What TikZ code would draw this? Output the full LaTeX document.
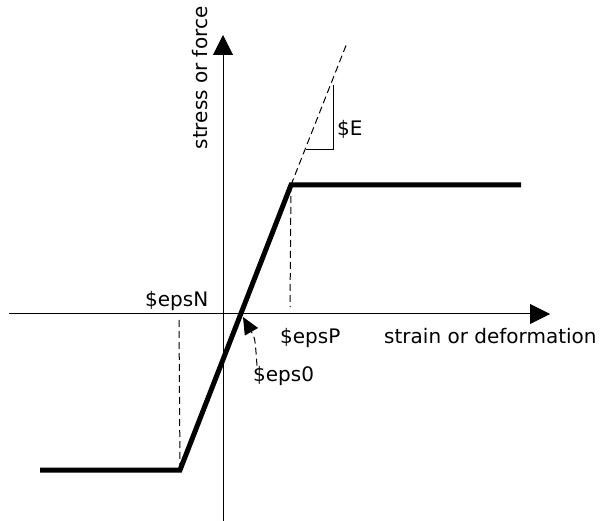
\documentclass[tikz,border=0pt]{standalone}
\usepackage{fontspec}
\setmainfont{DejaVu Sans}
\usetikzlibrary{positioning,arrows.meta}

\begin{document}
\begin{tikzpicture}[
  x=1pt,y=-1pt,
  font=\fontsize{20}{24}\selectfont,
  axis/.style={line width=1pt,-{Triangle[length=20pt,width=20pt]}},
  curve/.style={line width=5pt,line join=miter},
  guide/.style={line width=1pt,dash pattern=on 7pt off 4pt},
  thin/.style={line width=1pt},
  lbl/.style={inner sep=0pt,anchor=base west}]
  \useasboundingbox (0,0) rectangle (605,521);
  % axes
  \coordinate (xl) at (9,314);
  \coordinate (xr) at (550,314);
  \coordinate (yb) at (223,521);
  \coordinate (yt) at (223,35);
  \draw[axis] (xl) -- (xr);
  \draw[axis] (yb) -- (yt);
  \node[inner sep=0pt,anchor=base,rotate=90] (ylbl) at (207,78) {stress or force};
  \node[lbl] (xlbl) at (384,343) {strain or deformation};
  % bilinear law
  \coordinate (lo0) at (40,470);
  \coordinate (lo) at (180,470);
  \coordinate (hi) at (291,185);
  \coordinate (hi1) at (521,185);
  \coordinate (top) at (347,43);
  \coordinate (cross) at (243,317);
  \draw[curve] (lo0) -- (lo) -- (hi) -- (hi1);
  \draw[guide] (hi) -- (top);
  % slope
  \coordinate (s1) at (306,150);
  \coordinate (s2) at (333,150);
  \coordinate (s3) at (333,85);
  \draw[thin] (s1) -- (s2) -- (s3);
  \node[lbl] (elbl) at (337,136) {\$E};
  % yield strains
  \coordinate (pfoot) at (290,307);
  \coordinate (nfoot) at (179,320);
  \draw[guide] (hi) -- (pfoot);
  \draw[guide] (nfoot) -- (lo);
  \node[lbl] (epsn) at (145,307) {\$epsN};
  \node[lbl] (epsp) at (280,343) {\$epsP};
  \node[lbl] (eps0) at (253,381) {\$eps0};
  \draw[guide,-{Triangle[length=17pt,width=15pt]}] ([xshift=4pt]eps0.north west) .. controls (255,338) .. (cross);
\end{tikzpicture}
\end{document}
